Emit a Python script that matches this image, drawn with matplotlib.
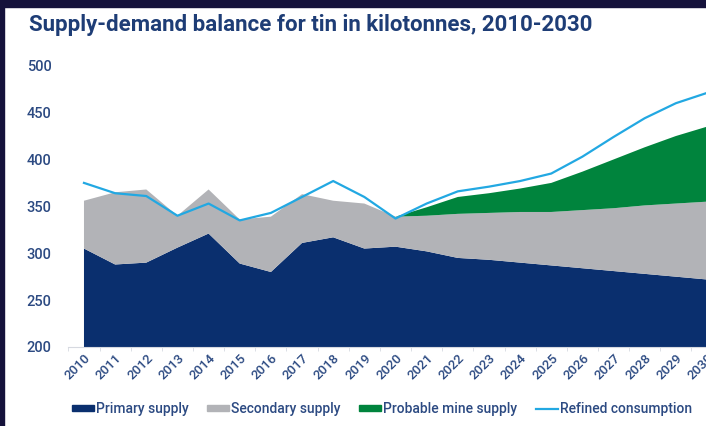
import numpy as np
import matplotlib
matplotlib.use("Agg")
import matplotlib.pyplot as plt
from matplotlib.patches import Rectangle, Patch
from matplotlib.lines import Line2D

plt.rcParams['font.family'] = ['Roboto', 'DejaVu Sans']

# data (kilotonnes)
years = list(range(2010, 2031))
primary = [305, 288, 290, 306, 321, 289, 280, 311, 317, 305, 307,
           302, 295, 293, 290, 287, 284, 281, 278, 275, 272]
secondary = [51, 77, 78, 34, 47, 47, 59, 52, 39, 48, 32,
             38, 47, 50, 54, 57, 62, 67, 73, 78, 83]
probable = [0, 0, 0, 0, 0, 0, 0, 0, 0, 0, 0,
            9, 18, 21, 25, 31, 41, 52, 62, 72, 80]
consumption = [375, 364, 361, 340, 353, 335, 343, 360, 377, 360, 337,
               353, 366, 371, 377, 385, 403, 424, 444, 460, 471]
series_names = ["Primary supply", "Secondary supply", "Probable mine supply",
                "Refined consumption"]

navy = "#0a2f6e"
grey = "#b2b3b7"
green = "#00843d"
blue = "#22a8e2"
text_col = "#2c4a82"

fig = plt.figure(figsize=(7.06, 4.26), dpi=100)
fig.patch.set_facecolor("white")

ax = fig.add_axes([68.4 / 706, 1 - 347 / 426, 654.2 / 706, (347 - 65.7) / 426])
ax.stackplot(years, primary, secondary, probable,
             colors=[navy, grey, green], linewidth=0)
ax.plot(years, consumption, color=blue, lw=1.6)

ax.set_xlim(2009.5, 2030.5)
ax.set_ylim(200, 500)
ax.set_yticks(range(200, 501, 50))
ax.set_xticks(years)
ax.set_xticks(np.arange(2009.5, 2031, 1), minor=True)
for s in ["top", "right", "left"]:
    ax.spines[s].set_visible(False)
ax.spines["bottom"].set_color("#d6d9e0")
ax.tick_params(axis="y", length=0, pad=12, labelsize=10.5, labelcolor=text_col)
ax.tick_params(axis="x", which="major", length=0, pad=3, labelsize=9.5,
               labelcolor=text_col)
ax.tick_params(axis="x", which="minor", length=3, color="#d6d9e0")
for lab in ax.get_yticklabels():
    lab.set_fontweight("medium")
for lab in ax.get_xticklabels():
    lab.set_rotation(45)
    lab.set_ha("right")
    lab.set_rotation_mode("anchor")
    lab.set_fontweight("medium")

fig.text(29 / 706, 1 - 25 / 426, "Supply-demand balance for tin in kilotonnes, 2010-2030",
         fontsize=16, fontweight="bold", color="#1e3d76", va="center", ha="left")

handles = [Patch(color=navy), Patch(color=grey), Patch(color=green),
           Line2D([], [], color=blue, lw=1.6)]
leg = fig.legend(handles, series_names, loc="center", ncol=4,
                 bbox_to_anchor=(382 / 706, 1 - 409 / 426), frameon=False,
                 fontsize=10, handlelength=1.6, handleheight=0.35,
                 handletextpad=0.15, columnspacing=1.3)
for t in leg.get_texts():
    t.set_color(text_col)
    t.set_fontweight("medium")

# dark frame along top and left edges
fig.patches.append(Rectangle((0, 1 - 7 / 426), 1, 7 / 426, transform=fig.transFigure,
                             color="#15123b", zorder=10))
fig.patches.append(Rectangle((0, 0), 4 / 706, 1, transform=fig.transFigure,
                             color="#15123b", zorder=10))

fig.savefig("out.png", dpi=100)
